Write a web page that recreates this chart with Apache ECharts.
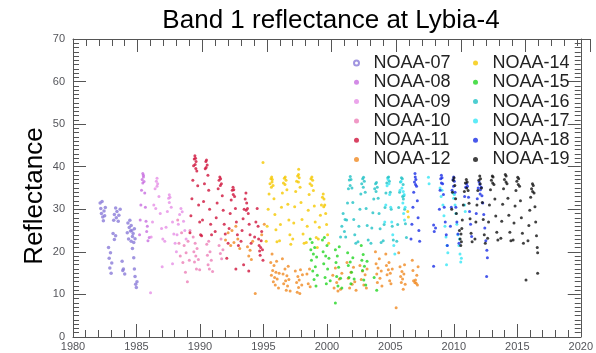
<!DOCTYPE html>
<html>
<head>
<meta charset="utf-8">
<script src="https://cdn.jsdelivr.net/npm/echarts@6/dist/echarts.min.js"></script>
<style>
	html, body { margin: 0; padding: 0; background: #fff; }
	#wrap { position: relative; width: 596px; height: 353px; }
	#frame, #chart { position: absolute; left: 0; top: 0; width: 596px; height: 353px; }
</style>
</head>
<body>
<div id="wrap">
	<div id="frame"></div>
	<div id="chart"></div>
</div>
<script>
var satNames = ['NOAA-07', 'NOAA-08', 'NOAA-09', 'NOAA-10', 'NOAA-11', 'NOAA-12', 'NOAA-14', 'NOAA-15', 'NOAA-16', 'NOAA-17', 'NOAA-18', 'NOAA-19'];
var satColors = ['#8a7ad8', '#c86ee0', '#e68ee6', '#ec80b8', '#d0143c', '#f08a22', '#f5c800', '#22d622', '#20c2c6', '#36e6f5', '#1a2ee6', '#111111'];
var xTicks = [1980, 2020, 5];
var yTicks = [0, 70, 10];

// [year, reflectance]
var noaa07 = [[1982.1,31.5],[1982.15,30.2],[1982.2,29.0],[1982.25,31.8],[1982.3,28.2],[1982.35,27.3],[1982.4,29.6],[1982.45,28.5],[1982.5,30.4],
	[1982.75,21.0],[1982.8,18.5],[1982.85,16.2],[1982.9,19.8],[1982.95,15.0],[1983.0,17.4],
	[1983.1,24.3],[1983.15,27.4],[1983.2,28.8],[1983.3,30.3],[1983.35,28.0],[1983.4,29.5],[1983.5,27.2],[1983.55,28.6],[1983.65,30.0],[1983.2,22.9],[1983.3,23.8],
	[1983.8,17.8],[1983.85,15.6],[1983.9,16.0],[1984.0,14.8],
	[1984.2,24.5],[1984.25,26.8],[1984.3,23.0],[1984.35,25.7],[1984.4,27.4],[1984.45,24.9],[1984.5,22.5],[1984.5,26.2],[1984.55,25.0],[1984.6,23.6],[1984.65,24.3],[1984.7,22.2],[1984.75,25.4],[1984.8,23.1],
	[1984.6,20.8],[1984.7,18.6],[1984.75,16.0],[1984.8,14.2],[1984.85,12.4],[1984.9,11.6],[1984.95,13.0]];
var noaa08 = [[1985.15,24.0],[1985.2,27.5],[1985.25,31.0],[1985.3,34.5],[1985.35,37.0],[1985.4,38.4],[1985.45,37.6],[1985.5,36.5],[1985.55,33.8],[1985.6,30.5],[1985.65,27.2],[1985.7,24.8],[1985.8,22.6],[1985.4,36.2],[1985.45,38.0],[1985.75,26.0],[1985.9,23.4]];
var noaa09 = [[1986.05,23.5],[1986.15,27.0],[1986.25,31.0],[1986.35,34.8],[1986.45,36.6],[1986.5,37.3],[1986.55,36.0],[1986.65,33.0],[1986.75,29.0],[1986.85,25.5],[1986.95,23.0],[1986.5,35.4],[1986.4,30.2],
	[1987.1,22.5],[1987.2,25.8],[1987.3,29.5],[1987.4,32.6],[1987.45,33.4],[1987.5,32.8],[1987.6,30.5],[1987.7,27.0],[1987.8,24.2],[1987.9,22.0],[1987.45,31.6],
	[1988.05,24.0],[1988.15,26.5],[1988.25,28.8],[1988.35,30.2],[1988.45,29.4],[1988.55,27.2],[1988.65,25.0],[1988.75,23.0],
	[1986.0,10.4],[1986.9,16.5],[1987.7,17.2],[1988.0,20.0]];
var noaa10 = [[1988.1,27.5],[1988.2,22.0],[1988.3,19.0],[1988.4,24.5],[1988.5,17.5],[1988.6,21.5],[1988.7,15.2],[1988.75,19.8],[1988.85,13.0],[1988.9,22.5],[1989.0,18.0],[1989.05,25.0],
	[1989.3,23.5],[1989.35,20.0],[1989.4,17.6],[1989.45,22.0],[1989.5,19.0],[1989.55,16.0],[1989.6,20.8],[1989.7,18.2],[1989.8,15.8],
	[1990.35,21.8],[1990.4,19.2],[1990.45,17.0],[1990.5,22.5],[1990.55,16.0],[1990.6,20.0],[1990.7,18.0],[1990.8,15.4],
	[1991.3,21.5],[1991.4,19.6],[1991.45,23.0],[1991.5,18.4],[1991.6,20.5]];
var noaa11 = [[1989.05,24.5],[1989.12,28.5],[1989.2,32.5],[1989.27,36.8],[1989.33,40.2],[1989.38,41.8],[1989.43,42.6],[1989.48,42.0],[1989.52,41.2],[1989.58,39.0],[1989.65,35.5],[1989.72,31.0],[1989.8,27.0],[1989.87,24.0],[1989.45,40.5],[1989.5,39.6],
	[1989.95,23.8],[1990.02,27.5],[1990.1,31.8],[1990.17,36.0],[1990.23,39.5],[1990.28,41.2],[1990.33,41.6],[1990.38,40.4],[1990.44,38.0],[1990.5,34.5],[1990.57,30.0],[1990.65,26.5],[1990.72,24.0],[1990.3,39.8],
	[1991.0,24.8],[1991.08,28.0],[1991.15,31.5],[1991.23,34.8],[1991.3,36.8],[1991.36,37.6],[1991.42,37.2],[1991.48,36.0],[1991.55,33.2],[1991.62,29.8],[1991.7,26.5],[1991.78,24.2],[1991.4,35.6],
	[1992.0,22.0],[1992.08,25.5],[1992.16,29.0],[1992.24,32.2],[1992.32,34.5],[1992.38,35.2],[1992.44,34.6],[1992.5,33.0],[1992.57,30.2],[1992.64,27.0],[1992.72,24.0],[1992.8,21.5],[1992.4,33.5],
	[1993.0,22.5],[1993.08,25.0],[1993.16,27.8],[1993.24,30.0],[1993.32,32.4],[1993.38,33.8],[1993.44,31.5],[1993.5,30.2],[1993.56,29.0],[1993.63,26.5],[1993.7,24.0],[1993.78,22.0],[1993.4,29.8],
	[1994.05,23.5],[1994.15,27.0],[1994.25,30.2],[1994.32,26.0],[1994.36,23.0],[1994.4,21.5],[1994.44,20.2],[1994.48,19.2],[1994.52,21.0],[1994.56,22.6],[1994.6,24.8],[1994.66,20.5],[1994.7,18.0],
	[1991.9,18.5],[1992.6,16.0],[1993.2,17.0],[1993.6,15.5]];
var noaa12 = [[1991.8,22.8],[1992.0,24.5],[1992.2,21.5],[1992.3,25.0],[1992.45,22.2],[1992.6,26.0],[1992.75,23.0],[1992.9,20.8],[1993.5,21.2],[1993.6,19.0],[1993.7,20.4],[1993.8,18.2],[1993.9,22.5],[1994.1,10.2],[1994.6,24.0],[1994.8,26.5],
	[1995.3,17.5],[1995.35,14.5],[1995.4,19.5],[1995.45,15.6],[1995.5,13.0],[1995.55,16.8],[1995.6,14.0],[1995.65,12.2],[1995.7,15.2],[1995.75,17.8],[1995.8,13.6],[1995.9,11.5],[1995.95,15.0],
	[1996.2,18.4],[1996.25,14.8],[1996.3,12.5],[1996.4,16.0],[1996.45,13.2],[1996.5,11.0],[1996.55,14.4],[1996.6,12.0],[1996.65,16.6],[1996.7,13.5],[1996.8,10.8],
	[1997.2,15.5],[1997.3,12.8],[1997.35,10.5],[1997.4,14.2],[1997.45,11.6],[1997.5,13.4],[1997.55,10.2],[1997.6,15.8],[1997.7,12.2],[1997.75,14.6],
	[1998.1,14.8],[1998.2,12.5],[1998.3,16.0],[1998.35,11.8],
	[2000.1,14.5],[2000.2,11.5],[2000.3,16.2],[2000.4,12.8],[2000.5,10.8],[2000.6,13.6],[2000.7,11.2],[2000.8,15.0],
	[2001.2,17.5],[2001.3,13.8],[2001.4,11.5],[2001.5,15.2],[2001.6,12.4],[2001.7,16.4],[2001.8,13.0],[2001.9,11.0],
	[2002.2,16.8],[2002.3,13.5],[2002.4,15.5],[2002.5,12.2],[2002.6,14.6],[2002.7,11.5],[2002.75,16.0],
	[2003.4,20.0],[2003.45,17.2],[2003.5,14.8],[2003.55,12.8],[2003.6,16.2],[2003.7,18.4],[2003.75,13.8],[2003.85,15.5],[2003.9,12.0],
	[2004.2,19.5],[2004.25,16.8],[2004.3,14.6],[2004.4,15.8],[2004.45,17.5],[2004.5,13.2],[2004.55,15.0],[2004.6,12.5],[2004.7,16.0],
	[2005.2,19.8],[2005.3,16.5],[2005.35,14.2],[2005.4,12.8],[2005.45,15.4],[2005.5,13.6],[2005.55,11.2],[2005.6,14.8],[2005.65,17.0],[2005.7,12.4],
	[2006.25,18.0],[2006.3,15.6],[2006.35,13.2],[2006.45,12.8],[2006.5,13.4],[2006.55,12.6],[2006.6,14.5],[2006.65,12.2],[2006.7,16.5],[2005.0,6.9]];
var noaa14 = [[1994.95,22.5],[1995.02,26.0],[1995.1,30.0],[1995.17,33.6],[1995.24,36.0],[1995.31,37.2],[1995.37,37.6],[1995.42,37.0],[1995.48,35.6],[1995.55,32.5],[1995.62,28.8],[1995.7,25.2],[1995.78,22.4],[1995.35,35.2],[1995.4,36.4],
	[1995.98,22.6],[1996.05,26.4],[1996.13,30.5],[1996.2,33.8],[1996.28,36.2],[1996.35,37.3],[1996.42,37.6],[1996.48,36.8],[1996.55,34.6],[1996.62,31.2],[1996.7,27.5],[1996.78,24.0],[1996.85,21.8],[1996.4,35.8],
	[1997.0,23.0],[1997.08,26.8],[1997.15,30.6],[1997.23,34.2],[1997.3,36.6],[1997.38,37.8],[1997.45,38.2],[1997.5,37.4],[1997.57,35.2],[1997.64,31.6],[1997.72,27.6],[1997.8,24.2],[1997.88,22.0],[1997.44,36.4],[1997.46,39.4],
	[1998.05,22.2],[1998.12,26.0],[1998.2,29.8],[1998.27,33.5],[1998.34,36.0],[1998.41,37.2],[1998.48,37.6],[1998.54,36.8],[1998.6,34.4],[1998.67,30.8],[1998.74,27.0],[1998.82,23.4],[1998.9,21.0],[1998.47,35.6],
	[1998.98,23.0],[1999.06,25.8],[1999.14,28.6],[1999.22,31.0],[1999.3,32.8],[1999.36,33.6],[1999.42,32.4],[1999.48,31.0],[1999.55,29.0],[1999.62,26.4],[1999.7,24.0],[1999.78,22.0],[1999.4,30.6],
	[1994.7,41.0],[2005.9,29.5],[2005.95,28.2]];
var noaa15 = [[1998.35,23.0],[1998.4,20.5],[1998.45,18.0],[1998.5,22.2],[1998.55,15.5],[1998.6,19.5],[1998.65,13.5],[1998.7,21.0],[1998.75,16.5],[1998.8,12.0],[1998.85,18.8],[1998.9,14.5],
	[1999.3,22.8],[1999.35,20.0],[1999.4,17.2],[1999.45,23.4],[1999.5,14.0],[1999.55,19.0],[1999.6,12.5],[1999.65,21.5],[1999.7,16.0],[1999.8,18.5],[1999.9,13.2],
	[2000.3,20.5],[2000.35,17.5],[2000.4,14.2],[2000.45,19.0],[2000.5,12.0],[2000.55,16.4],[2000.6,21.2],[2000.7,13.8],[2000.8,11.5],[2000.3,8.0],
	[2001.25,19.8],[2001.3,16.8],[2001.35,14.0],[2001.45,17.6],[2001.5,12.5],[2001.55,15.2],[2001.65,18.6],[2001.75,13.6],
	[2002.3,21.5],[2002.35,18.0],[2002.4,15.6],[2002.45,19.4],[2002.5,13.4],[2002.55,16.6],[2002.65,12.2],[2002.75,17.8],
	[2003.3,14.0],[2003.5,11.0]];
var noaa16 = [[2000.7,23.5],[2000.8,26.0],[2000.9,29.0],[2001.0,24.8],[2001.05,27.6],
	[2001.1,23.5],[2001.17,27.5],[2001.24,31.5],[2001.31,34.8],[2001.38,36.9],[2001.45,37.7],[2001.51,37.0],[2001.58,35.0],[2001.65,31.6],[2001.72,27.6],[2001.8,24.0],[2001.88,22.0],[2001.44,35.6],
	[2002.05,22.4],[2002.12,26.0],[2002.2,30.0],[2002.27,33.6],[2002.34,36.0],[2002.41,37.2],[2002.48,37.5],[2002.54,36.6],[2002.61,34.0],[2002.68,30.2],[2002.76,26.2],[2002.84,22.8],[2002.46,35.2],
	[2003.05,22.0],[2003.12,25.6],[2003.2,29.2],[2003.27,32.4],[2003.34,34.8],[2003.41,36.0],[2003.48,36.3],[2003.54,35.2],[2003.61,32.6],[2003.68,29.0],[2003.76,25.4],[2003.84,22.2],[2003.45,34.2],
	[2004.0,22.6],[2004.07,26.4],[2004.14,30.4],[2004.21,33.8],[2004.28,36.2],[2004.35,37.4],[2004.42,37.6],[2004.48,36.6],[2004.55,34.0],[2004.62,30.0],[2004.7,26.0],[2004.78,22.8],
	[2005.05,22.5],[2005.12,26.4],[2005.2,30.4],[2005.27,34.0],[2005.34,36.4],[2005.41,37.4],[2005.48,37.2],[2005.54,35.8],[2005.6,33.2],[2005.66,30.0],[2005.72,26.6],[2005.8,23.4],[2005.5,33.0],[2005.56,32.4]];
var noaa17 = [[2004.3,35.5],[2004.38,37.0],[2004.45,36.0],[2004.5,33.5],[2004.58,30.5],[2004.66,27.0],[2004.74,24.0],[2004.82,21.5],[2004.9,19.5],[2004.2,31.0],[2004.12,27.0],
	[2005.3,34.5],[2005.38,36.5],[2005.45,35.0],[2005.52,31.5],[2005.58,29.0],[2005.65,27.5],[2005.62,33.5],[2005.7,30.5],[2005.55,34.2],
	[2007.5,37.5],[2007.55,36.0],
	[2008.4,35.0],[2008.48,33.0],[2008.55,34.5],[2008.62,31.0],[2008.7,28.5],[2008.78,26.0],[2008.86,23.5],[2008.94,21.5],[2009.0,19.8],[2008.9,17.0],
	[2009.4,33.8],[2009.45,32.6],[2009.5,33.5],[2009.56,31.0],[2009.62,29.0],[2009.7,26.5],[2009.78,24.0],[2009.86,21.5],[2009.94,19.5],[2010.0,17.6],[2010.05,18.5],[2009.9,23.0],
	[2010.3,31.0],[2010.35,29.5]];
var noaa18 = [[2006.15,23.0],[2006.22,26.5],[2006.3,30.5],[2006.36,34.0],[2006.42,36.4],[2006.48,37.6],[2006.53,37.0],[2006.58,35.4],[2006.64,32.0],[2006.7,28.0],[2006.76,25.0],[2006.82,22.5],[2006.5,35.8],[2006.46,38.4],
	[2007.9,26.3],[2007.95,24.8],[2008.05,25.6],[2007.9,16.6],
	[2008.35,30.0],[2008.4,34.5],[2008.45,37.2],[2008.5,38.0],[2008.55,37.4],[2008.6,36.0],[2008.66,33.5],[2008.72,30.5],[2008.8,27.0],[2008.88,24.0],[2008.96,21.5],[2008.5,36.2],
	[2009.2,26.0],[2009.27,30.5],[2009.33,34.5],[2009.4,37.0],[2009.45,37.6],[2009.5,36.6],[2009.56,34.0],[2009.62,30.5],[2009.7,27.0],[2009.78,24.2],[2009.86,22.0],[2009.44,35.4],
	[2010.3,33.0],[2010.38,35.2],[2010.45,36.0],[2010.52,35.4],[2010.6,32.8],[2010.68,29.5],[2010.76,26.5],[2010.84,23.6],
	[2011.2,29.0],[2011.28,32.5],[2011.35,35.0],[2011.42,36.4],[2011.48,35.8],[2011.52,34.6],[2011.58,35.2],[2011.64,33.2],[2011.7,31.5],[2011.78,28.8],[2011.86,25.6],[2011.94,22.6],[2012.02,20.4],[2012.06,18.6],[2011.5,33.6],[2012.0,14.2]];
var noaa19 = [[2009.3,30.0],[2009.36,34.0],[2009.42,36.8],[2009.48,37.4],[2009.54,35.6],[2009.6,32.5],[2009.66,29.0],
	[2009.9,25.0],[2009.95,23.0],[2010.0,21.5],[2010.02,24.2],[2010.05,22.4],[2010.08,25.5],
	[2010.12,27.5],[2010.2,31.0],[2010.28,34.2],[2010.36,36.2],[2010.43,37.0],[2010.5,36.4],[2010.57,34.4],[2010.64,31.4],[2010.72,27.8],[2010.8,24.4],[2010.88,22.4],[2010.46,35.0],
	[2011.1,23.0],[2011.17,27.0],[2011.25,31.0],[2011.32,34.4],[2011.4,36.8],[2011.47,37.8],[2011.53,37.2],[2011.6,35.0],[2011.67,31.6],[2011.74,27.6],[2011.82,24.0],[2011.9,22.0],[2011.5,36.0],
	[2012.08,23.2],[2012.15,27.0],[2012.22,31.0],[2012.3,34.6],[2012.37,36.8],[2012.44,37.8],[2012.5,37.6],[2012.57,35.8],[2012.64,32.4],[2012.71,28.4],[2012.79,24.6],[2012.87,22.8],[2012.47,36.2],
	[2013.1,23.2],[2013.17,27.2],[2013.24,31.2],[2013.31,34.8],[2013.38,37.0],[2013.45,38.2],[2013.51,37.8],[2013.58,36.0],[2013.65,32.6],[2013.72,28.6],[2013.8,24.6],[2013.88,22.6],[2013.5,36.4],
	[2014.05,22.8],[2014.12,26.8],[2014.2,30.8],[2014.27,34.4],[2014.34,36.6],[2014.41,37.5],[2014.48,37.2],[2014.55,35.4],[2014.62,32.0],[2014.69,28.0],[2014.77,24.4],[2014.85,22.0],[2014.45,35.8],
	[2015.2,22.6],[2015.27,26.2],[2015.34,29.8],[2015.41,32.8],[2015.48,34.8],[2015.55,36.0],[2015.61,35.6],[2015.67,33.8],[2015.74,30.6],[2015.8,27.0],[2015.86,23.8],[2015.92,21.0],[2015.95,19.8],[2015.56,34.2],
	[2015.05,13.4],[2015.95,15.0]];
var satData = [noaa07, noaa08, noaa09, noaa10, noaa11, noaa12, noaa14, noaa15, noaa16, noaa17, noaa18, noaa19];

var font = '"Liberation Sans", Arial, Helvetica, sans-serif';
var axisColor = '#555';
var gridBox = { left: 73, right: 6, top: 39, bottom: 16 };

function makeXAxis(extra) {
	var o = {
		type: 'value', min: xTicks[0], max: xTicks[1], interval: xTicks[2],
		axisLine: { show: true, lineStyle: { color: axisColor, width: 1 } },
		axisTick: { show: true, inside: true, length: 13, lineStyle: { color: axisColor, width: 1 } },
		minorTick: { show: true, splitNumber: 5, length: 7, lineStyle: { color: axisColor, width: 1 } },
		splitLine: { show: false }
	};
	for (var k in extra) o[k] = extra[k];
	return o;
}
function makeYAxis(extra) {
	var o = {
		type: 'value', min: yTicks[0], max: yTicks[1], interval: yTicks[2],
		axisLine: { show: true, lineStyle: { color: axisColor, width: 1 } },
		axisTick: { show: true, inside: true, length: 13, lineStyle: { color: axisColor, width: 1 } },
		minorTick: { show: true, splitNumber: 10, length: 6, lineStyle: { color: axisColor, width: 1 } },
		splitLine: { show: false }
	};
	for (var k in extra) o[k] = extra[k];
	return o;
}

// bottom layer: the framed axes with their ticks
var frame = echarts.init(document.getElementById('frame'));
frame.setOption({
	animation: false,
	grid: [gridBox, gridBox],
	xAxis: [
		makeXAxis({ axisLabel: { margin: 4, fontSize: 11, formatter: function(v) { return String(v); } } }),
		makeXAxis({ gridIndex: 1, position: 'top', axisLabel: { show: false } })
	],
	yAxis: [
		makeYAxis({ axisLabel: { fontSize: 11 } }),
		makeYAxis({ position: 'right', axisLabel: { show: false } }),
		{ type: 'value', gridIndex: 1, min: 100, max: 200, show: false }
	]
});

// top layer: points, legend and text, on hidden axes with the same scale
var series = [];
for (var i = 0; i < satNames.length; i++) {
	series.push({
		name: satNames[i],
		type: 'scatter',
		symbol: 'circle',
		symbolSize: i === 0 ? 3.5 : 3,
		itemStyle: { color: satColors[i] },
		data: satData[i]
	});
}

function legendItems(list) {
	return list.map(function(n) {
		return { name: n, icon: n === 'NOAA-07' ? 'emptyCircle' : 'circle' };
	});
}
var legendStyle = { fontSize: 18, color: '#222', fontFamily: font, lineHeight: 18 };

var chart = echarts.init(document.getElementById('chart'));
chart.setOption({
	animation: false,
	backgroundColor: 'transparent',
	grid: gridBox,
	xAxis: { type: 'value', min: xTicks[0], max: xTicks[1], show: false },
	yAxis: { type: 'value', min: yTicks[0], max: yTicks[1], show: false },
	legend: [{
		data: legendItems(satNames.slice(0, 6)),
		orient: 'vertical', left: 348, top: 49, itemWidth: 24, itemHeight: 5, itemGap: 1.3,
		selectedMode: false, textStyle: legendStyle
	}, {
		data: legendItems(satNames.slice(6)),
		orient: 'vertical', left: 468, top: 49, itemWidth: 24, itemHeight: 5, itemGap: 1.3,
		selectedMode: false, textStyle: legendStyle
	}],
	graphic: [{
		type: 'text', x: 331, y: 21,
		style: { text: 'Band 1 reflectance at Lybia-4', font: '26px ' + font, fill: '#000', align: 'center', verticalAlign: 'middle' }
	}, {
		type: 'text', x: 35, y: 196, rotation: Math.PI / 2,
		style: { text: 'Reflectance', font: '26px ' + font, fill: '#000', align: 'center', verticalAlign: 'middle' }
	}],
	series: series
});
</script>
</body>
</html>
